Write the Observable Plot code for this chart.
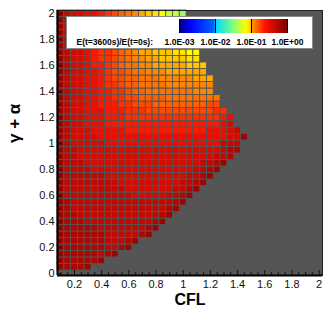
<!DOCTYPE html>
<html><head><meta charset="utf-8">
<script src="https://cdn.jsdelivr.net/npm/d3@7"></script>
<script src="https://cdn.jsdelivr.net/npm/@observablehq/plot@0.6"></script>
<style>
body{margin:0;background:#fff;}
#chart{position:relative;width:332px;height:316px;font-family:"Liberation Sans",Arial,sans-serif;}
#legendBox{position:absolute;left:65.5px;top:15.5px;width:247px;height:33px;background:#fff;border:1px solid #8a8a8a;box-sizing:border-box;}
#legendTitle{position:absolute;left:76.5px;top:37.8px;font:bold 8.5px "Liberation Sans",Arial,sans-serif;line-height:8.5px;white-space:nowrap;color:#000;}
</style></head><body><div id="chart"></div>
<script>
// CFL column centres and gamma+alpha row centres
const cflValues = [0.1,0.15,0.2,0.25,0.3,0.35,0.4,0.45,0.5,0.55,0.6,0.65,0.7,0.75,0.8,0.85,0.9,0.95,1.0,1.05,1.1,1.15,1.2,1.25,1.3,1.35,1.4,1.45];
const gaValues = [0.05,0.1,0.15,0.2,0.25,0.3,0.35,0.4,0.45,0.5,0.55,0.6,0.65,0.7,0.75,0.8,0.85,0.9,0.95,1.0,1.05,1.1,1.15,1.2,1.25,1.3,1.35,1.4,1.45,1.5,1.55,1.6,1.65,1.7,1.75,1.8,1.85,1.9,1.95,2.0];
// level code -> E(t=3600s)/E(t=0s) value
const levelKeys = "0123456789abcdefgh";
const levelValues = [0.841,0.738,0.592,0.488,0.393,0.316,0.239,0.205,0.176,0.151,0.133,0.117,0.1028,0.0969,0.0849,0.0724,0.0506,0.037];
// one string per row (bottom to top), one character per stable cell starting at CFL=0.1
const rowLevels = [
"12221",
"1222221",
"122222321",
"12222223321",
"122222233321",
"12222223333321",
"122222333333321",
"1222333333333321",
"12233333333333321",
"123333333333333321",
"1233333333333333321",
"13333333333444443321",
"133333333344444443321",
"1333333334444444443321",
"13333334444444444443321",
"133334444444444444443321",
"1333444444444444444443321",
"13344444444444444444444332",
"133444444444444444444444322",
"134444455555555555555555333",
"1344445555555555555555555441",
"134445555566666666666655543",
"13445556666666666666666654",
"13445556667777777777777765",
"1344555666777888888888877",
"134455666778889999999988",
"1344556677889999aaaaaaaa",
"1344556677899aaaaaaabbb",
"134455677899aaaabbbbbbb",
"134455678899aaabbbbbccc",
"13445567889aabbbcccccc",
"1344566789aabbcccccddd",
"1344567789abbccddddee",
"1344567789abccdddeeff",
"1344567789abccdddeeef",
"1344567789abccdddeee",
"1344556789abccddeeef",
"1344556789abcddeeeff",
"1344556789abcdeeffg",
"1344556789abcdefggh"
];
const xMajorTicks = [0.2,0.4,0.6,0.8,1,1.2,1.4,1.6,1.8,2];
const xMinorTicks = [0.1,0.15,0.25,0.3,0.35,0.45,0.5,0.55,0.65,0.7,0.75,0.85,0.9,0.95,1.05,1.1,1.15,1.25,1.3,1.35,1.45,1.5,1.55,1.65,1.7,1.75,1.85,1.9,1.95];
const yMajorTicks = [0,0.2,0.4,0.6,0.8,1,1.2,1.4,1.6,1.8,2];
const yMinorTicks = [0.05,0.1,0.15,0.25,0.3,0.35,0.45,0.5,0.55,0.65,0.7,0.75,0.85,0.9,0.95,1.05,1.1,1.15,1.25,1.3,1.35,1.45,1.5,1.55,1.65,1.7,1.75,1.85,1.9,1.95];
const legendTicks = [0.001,0.01,0.1,1];
const legendTitle = "E(t=3600s)/E(t=0s):";
const xTitle = "CFL";
const yTitle = "γ + α";

const xDomain = [0.075, 2.025];
const yDomain = [-0.0135, 2.025];
const half = 0.025;

const cells = [];
rowLevels.forEach((s, j) => {
  [...s].forEach((ch, i) => {
    cells.push({cfl: cflValues[i], ga: gaValues[j], v: levelValues[levelKeys.indexOf(ch)]});
  });
});

const stops = [[0,"#00007f"],[0.1,"#0000ff"],[0.32,"#0064ff"],[0.345,"#00dcff"],[0.5,"#80ff80"],[0.62,"#ffff00"],[0.66,"#ffd000"],[0.675,"#ff9800"],[0.8,"#ff1000"],[1,"#800000"]];
function jet(t) {
  t = Math.max(0, Math.min(1, t));
  for (let i = 1; i < stops.length; i++) {
    if (t <= stops[i][0]) {
      const [t0, c0] = stops[i-1], [t1, c1] = stops[i];
      return d3.interpolateRgb(c0, c1)((t - t0) / (t1 - t0));
    }
  }
  return stops[stops.length-1][1];
}
const colorOpts = {type: "log", domain: [0.001, 1], interpolate: jet};
const fmt = d => String(+d.toFixed(1));
const sci = d => { const e = Math.round(Math.log10(d)); return "1.0E" + (e < 0 ? "-" : "+") + String(Math.abs(e)).padStart(2, "0"); };

const chart = Plot.plot({
  width: 332, height: 316,
  marginLeft: 57, marginRight: 10, marginTop: 10, marginBottom: 41,
  x: {domain: xDomain},
  y: {domain: yDomain},
  color: colorOpts,
  style: {fontFamily: "'Liberation Sans', Arial, sans-serif", fontSize: "11px", color: "#111", background: "#fff"},
  marks: [
    Plot.frame({fill: "#555555"}),
    Plot.rect(cells, {x1: d => d.cfl - half, x2: d => d.cfl + half, y1: d => d.ga - half, y2: d => d.ga + half, fill: "v", stroke: "#555555", strokeWidth: 0.9}),
    Plot.frame({stroke: "#222", strokeWidth: 1}),
    Plot.ruleX([xDomain[0]], {stroke: "#000", strokeWidth: 2}),
    Plot.ruleY([yDomain[0]], {stroke: "#000", strokeWidth: 2}),
    Plot.axisX(xMajorTicks, {anchor: "bottom", tickSize: -5, tickFormat: () => "", label: null}),
    Plot.axisX(xMinorTicks, {anchor: "bottom", tickSize: -3, tickFormat: () => "", label: null}),
    Plot.axisX(xMajorTicks, {anchor: "bottom", tickSize: 0, tickPadding: 5, tickFormat: fmt, label: null}),
    Plot.axisY(yMajorTicks, {anchor: "left", tickSize: -5, tickFormat: () => "", label: null}),
    Plot.axisY(yMinorTicks, {anchor: "left", tickSize: -3, tickFormat: () => "", label: null}),
    Plot.axisY(yMajorTicks, {anchor: "left", tickSize: 0, tickPadding: 3, tickFormat: fmt, label: null}),
    Plot.text([xTitle], {text: d => d, frameAnchor: "bottom", dy: 29, fontSize: 16, fontWeight: "bold", fill: "#000"}),
    Plot.text([yTitle], {text: d => d, frameAnchor: "left", dx: -43, rotate: -90, fontSize: 17, fontWeight: "bold", fill: "#000"})
  ]
});
const root = document.getElementById("chart");
root.appendChild(chart);

const box = document.createElement("div");
box.id = "legendBox";
root.appendChild(box);
const title = document.createElement("div");
title.id = "legendTitle";
title.textContent = legendTitle;
root.appendChild(title);

const leg = Plot.legend({
  color: colorOpts, legend: "ramp",
  width: 140, height: 31, marginTop: 0, marginBottom: 17, marginLeft: 16, marginRight: 16,
  ticks: legendTicks, tickFormat: sci, tickSize: 0, label: null
});
leg.style.position = "absolute";
leg.style.left = "163px";
leg.style.top = "19.3px";
leg.style.font = "bold 8.5px 'Liberation Sans', Arial, sans-serif";
leg.style.overflow = "visible";
leg.style.color = "#000";
leg.style.background = "transparent";
leg.style.margin = "0";
leg.querySelectorAll("text").forEach(t => t.setAttribute("transform", "translate(0,3)"));
root.appendChild(leg);
</script></body></html>
